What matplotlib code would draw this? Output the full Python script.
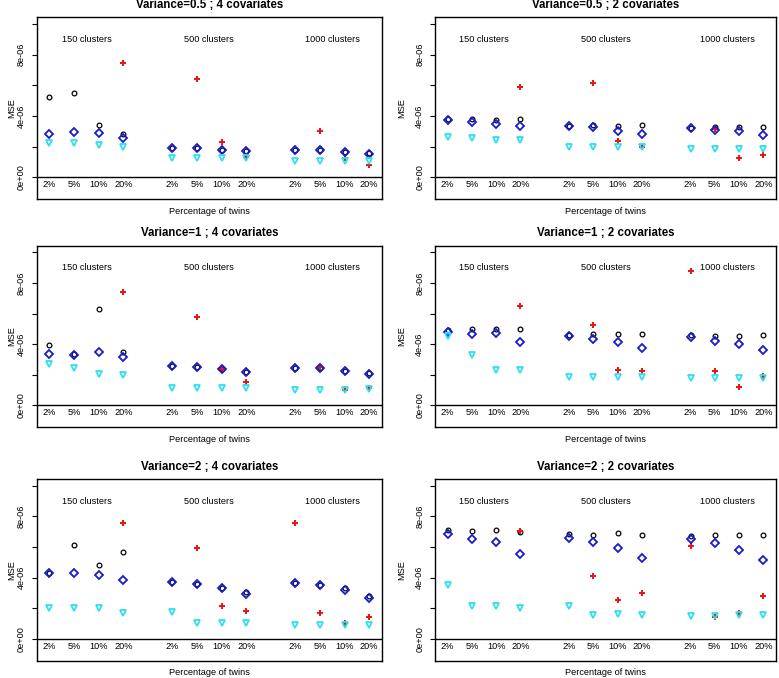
import numpy as np
import matplotlib
matplotlib.use("Agg")
import matplotlib.pyplot as plt

plt.rcParams["font.family"] = ["Liberation Sans", "DejaVu Sans"]

nan = np.nan
PCT = ["2%", "5%", "10%", "20%"]
CLUSTERS = ["150 clusters", "500 clusters", "1000 clusters"]
TITLES = ["Variance=0.5 ; 4 covariates", "Variance=0.5 ; 2 covariates",
          "Variance=1 ; 4 covariates", "Variance=1 ; 2 covariates",
          "Variance=2 ; 4 covariates", "Variance=2 ; 2 covariates"]

# MSE in units of 1e-06; order: 150/500/1000 clusters x 2,5,10,20 %
# NaN = point outside the plotted range
black_v05_4 = [5.25, 5.49, 3.44, 2.85, 1.92, 1.90, 1.79, 1.71, 1.79, 1.75, 1.62, 1.58]
blue_v05_4 = [2.81, 2.96, 2.92, 2.57, 1.92, 1.90, 1.79, 1.71, 1.79, 1.75, 1.62, 1.54]
cyan_v05_4 = [2.21, 2.25, 2.08, 1.97, 1.23, 1.23, 1.23, 1.23, 1.06, 1.06, 1.04, 1.06]
red_v05_4 = [nan, nan, nan, 7.48, nan, 6.38, 2.31, 1.30, nan, 3.00, 1.23, 0.82]

black_v05_2 = [3.78, 3.83, 3.72, 3.78, 3.37, 3.44, 3.35, 3.44, 3.24, 3.31, 3.31, 3.31]
blue_v05_2 = [3.74, 3.61, 3.46, 3.37, 3.35, 3.29, 3.05, 2.85, 3.22, 3.11, 3.00, 2.77]
cyan_v05_2 = [2.64, 2.57, 2.40, 2.42, 1.97, 1.97, 1.95, 1.97, 1.84, 1.84, 1.84, 1.84]
red_v05_2 = [nan, nan, nan, 5.86, nan, 6.14, 2.36, 1.97, nan, 3.18, 1.28, 1.45]

black_v1_4 = [3.94, 3.35, 6.30, 3.51, 2.58, 2.49, 2.39, 2.17, 2.47, 2.41, 2.26, 2.10]
blue_v1_4 = [3.35, 3.27, 3.46, 3.16, 2.58, 2.49, 2.39, 2.17, 2.47, 2.41, 2.26, 2.04]
cyan_v1_4 = [2.67, 2.43, 2.04, 1.96, 1.16, 1.16, 1.16, 1.16, 1.03, 1.03, 1.03, 1.05]
red_v1_4 = [nan, nan, nan, 7.40, nan, 5.76, 2.39, 1.51, nan, 2.52, 1.03, 1.10]

black_v1_2 = [4.92, 4.99, 5.01, 4.99, 4.60, 4.65, 4.67, 4.65, 4.58, 4.56, 4.56, 4.62]
blue_v1_2 = [4.82, 4.69, 4.73, 4.15, 4.52, 4.32, 4.13, 3.76, 4.49, 4.19, 4.02, 3.63]
cyan_v1_2 = [4.56, 3.27, 2.34, 2.32, 1.83, 1.83, 1.83, 1.83, 1.76, 1.76, 1.76, 1.81]
red_v1_2 = [nan, nan, nan, 6.52, nan, 5.27, 2.30, 2.26, 8.77, 2.26, 1.20, 1.94]

black_v2_4 = [4.30, 6.11, 4.85, 5.70, 3.74, 3.59, 3.35, 3.04, 3.63, 3.50, 3.33, 2.83]
blue_v2_4 = [4.30, 4.30, 4.17, 3.87, 3.74, 3.59, 3.35, 2.91, 3.63, 3.50, 3.22, 2.65]
cyan_v2_4 = [2.02, 2.02, 2.02, 1.72, 1.76, 1.02, 1.02, 1.02, 0.89, 0.89, 0.89, 0.89]
red_v2_4 = [nan, nan, nan, 7.54, nan, 5.96, 2.17, 1.85, 7.54, 1.67, 1.07, 1.46]

black_v2_2 = [7.09, 7.04, 7.13, 7.00, 6.85, 6.78, 6.89, 6.80, 6.74, 6.80, 6.80, 6.80]
blue_v2_2 = [6.87, 6.54, 6.35, 5.54, 6.61, 6.30, 5.96, 5.26, 6.52, 6.26, 5.80, 5.17]
cyan_v2_2 = [3.50, 2.15, 2.13, 2.02, 2.15, 1.59, 1.63, 1.59, 1.50, 1.50, 1.54, 1.56]
red_v2_2 = [nan, nan, nan, 7.07, nan, 4.11, 2.52, 3.00, 6.09, 1.43, 1.70, 2.83]

PANELS = [
    (black_v05_4, blue_v05_4, cyan_v05_4, red_v05_4),
    (black_v05_2, blue_v05_2, cyan_v05_2, red_v05_2),
    (black_v1_4, blue_v1_4, cyan_v1_4, red_v1_4),
    (black_v1_2, blue_v1_2, cyan_v1_2, red_v1_2),
    (black_v2_4, blue_v2_4, cyan_v2_4, red_v2_4),
    (black_v2_2, blue_v2_2, cyan_v2_2, red_v2_2),
]

W, H = 779, 678
COLS = [(36.7, 382.0), (435.0, 776.0)]
ROWS = [(17.3, 199.3), (245.7, 427.3), (479.0, 661.0)]
YLAB_X = [12.0, 401.7]

x = np.array([g * 5 + k + 1 for g in range(3) for k in range(4)], dtype=float)
fig = plt.figure(figsize=(W / 100, H / 100), dpi=100)

for i, (black, blue, cyan, red) in enumerate(PANELS):
    r, c = divmod(i, 2)
    x0, x1 = COLS[c]
    y0, y1 = ROWS[r]
    ax = fig.add_axes([x0 / W, 1 - y1 / H, (x1 - x0) / W, (y1 - y0) / H])
    ax.set_xlim(1 - 0.52, 14 + 0.52)
    ax.set_ylim(-1e-6 - 0.44e-6, 1e-5 + 0.44e-6)
    ax.axhline(0, color="black", lw=1.0)

    s = 1e-6
    ax.plot(x, np.array(black) * s, "o", ms=3.4, mfc="none", mec="black", mew=0.9)
    ax.plot(x, np.array(red) * s, "+", ms=5.0, mec="#ee1111", mew=1.4)
    ax.plot(x, np.array(blue) * s, "D", ms=3.6, mfc="none", mec="#1a1acd", mew=1.3)
    ax.plot(x, np.array(cyan) * s, "v", ms=4.0, mfc="none", mec="#2ee0ee", mew=1.3)

    for xi, lab in zip(x, PCT * 3):
        ax.text(xi, -5e-7, lab, ha="center", va="center", fontsize=6.6)
    for g, lab in enumerate(CLUSTERS):
        ax.text(g * 5 + 2.5, 9e-6, lab, ha="center", va="center", fontsize=6.6)

    ax.set_xticks([])
    yt = np.arange(0, 1.1e-5, 2e-6)
    ax.set_yticks(yt)
    ax.set_yticklabels(["0e+00", "", "4e-06", "", "8e-06", ""], rotation=90,
                       va="center", fontsize=6.6)
    ax.tick_params(axis="y", length=3.6, width=0.8, pad=4.2)
    for sp in ax.spines.values():
        sp.set_linewidth(1.0)

    ax.text(0.5, 1 + 12.3 / (y1 - y0), TITLES[i], transform=ax.transAxes,
            ha="center", va="center", fontsize=8.3, fontweight="bold")
    ax.text(0.5, -11.8 / (y1 - y0), "Percentage of twins", transform=ax.transAxes,
            ha="center", va="center", fontsize=6.6)
    ax.text((YLAB_X[c] - x0) / (x1 - x0), 0.5, "MSE", transform=ax.transAxes,
            ha="center", va="center", rotation=90, fontsize=6.6)

fig.savefig("out.png", dpi=100)
